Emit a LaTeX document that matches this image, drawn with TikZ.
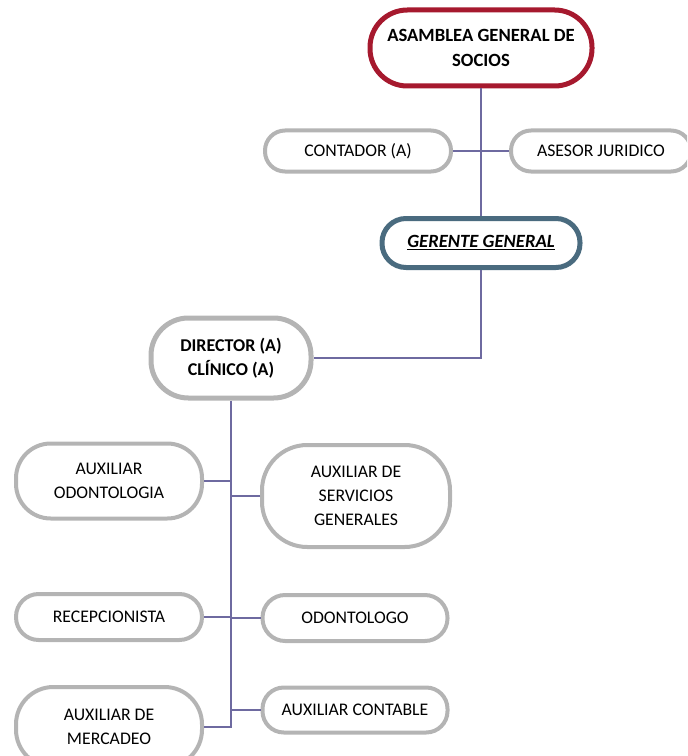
\documentclass[tikz,border=0pt]{standalone}
\usepackage{fontspec}
\setmainfont{Carlito}
\definecolor{rojoasam}{RGB}{166,25,46}
\definecolor{azulger}{RGB}{74,107,127}
\definecolor{grisbox}{RGB}{180,180,180}
\definecolor{lineamor}{RGB}{110,106,160}
\tikzset{
  puesto/.style={draw=grisbox, line width=3pt, fill=white, align=center, inner sep=0pt,
    font=\fontsize{13.3}{18}\selectfont},
  lineaorg/.style={draw=lineamor, line width=1.5pt}
}
\begin{document}
\begin{tikzpicture}[x=0.75pt,y=0.75pt,yscale=-1,xscale=1]
\useasboundingbox (0,0) rectangle (687,756);
\clip (0,0) rectangle (687,756);

% Nodes
\node[puesto, draw=rojoasam, line width=3.75pt, minimum width=166.5pt, minimum height=57pt, rounded corners=28pt,
  font=\fontsize{14}{18.5}\selectfont\bfseries] (asamblea) at (481,48) {ASAMBLEA GENERAL DE\\SOCIOS};
\node[puesto, minimum width=139.5pt, minimum height=30.75pt, rounded corners=15pt] (contador) at (358,151) {CONTADOR (A)};
\node[puesto, minimum width=135pt, minimum height=30.75pt, rounded corners=15pt] (asesor) at (601,151) {ASESOR JURIDICO};
\node[puesto, draw=azulger, line width=3.75pt, minimum width=148.5pt, minimum height=36.75pt, rounded corners=18pt,
  font=\fontsize{14}{18}\selectfont\bfseries\itshape] (gerente) at (481,243) {\underline{GERENTE GENERAL}};
\node[puesto, line width=3.75pt, minimum width=120pt, minimum height=60pt, rounded corners=28pt,
  font=\fontsize{13.5}{18}\selectfont\bfseries] (director) at (231,358) {DIRECTOR (A)\\CLÍNICO (A)};
\node[puesto, minimum width=139.5pt, minimum height=56.25pt, rounded corners=26pt] (auxodo) at (109,481) {AUXILIAR\\ODONTOLOGIA};
\node[puesto, minimum width=141pt, minimum height=76.5pt, rounded corners=34pt] (auxserv) at (356,496) {AUXILIAR DE\\SERVICIOS\\GENERALES};
\node[puesto, minimum width=139.5pt, minimum height=34.5pt, rounded corners=17pt] (recep) at (109,617) {RECEPCIONISTA};
\node[puesto, minimum width=138.75pt, minimum height=34.5pt, rounded corners=17pt] (odonto) at (355,618) {ODONTOLOGO};
\node[puesto, minimum width=139.5pt, minimum height=60pt, rounded corners=28pt] (auxmerc) at (109,727) {AUXILIAR DE\\MERCADEO};
\node[puesto, minimum width=138.75pt, minimum height=33.75pt, rounded corners=16pt] (auxcont) at (355,710) {AUXILIAR CONTABLE};

% Lines
\draw[lineaorg] (asamblea.south) -- (gerente.north);
\draw[lineaorg] (contador.east) -- (asesor.west);
\draw[lineaorg] (gerente.south) |- (director.east);
\draw[lineaorg] (director.south) |- (auxmerc.east);
\draw[lineaorg] (auxodo.east) -- (auxodo.east -| director.south);
\draw[lineaorg] (recep.east) -- (recep.east -| director.south);
\draw[lineaorg] (auxserv.west) -- (auxserv.west -| director.south);
\draw[lineaorg] (odonto.west) -- (odonto.west -| director.south);
\draw[lineaorg] (auxcont.west) -- (auxcont.west -| director.south);

\end{tikzpicture}
\end{document}
